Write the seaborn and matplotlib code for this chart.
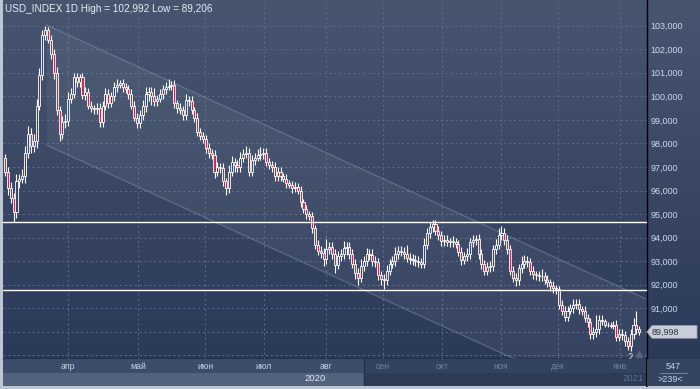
import numpy as np
import pandas as pd
import seaborn as sns
import matplotlib
matplotlib.use("Agg")
import matplotlib.pyplot as plt
from matplotlib.colors import LinearSegmentedColormap
from matplotlib.patches import Polygon, Rectangle
from matplotlib.transforms import blended_transform_factory

# --- data (daily candles, USD_INDEX) ---
first_open = 97.4
closes = [
    96.8, 96.1, 95.7, 95.1, 96.4, 96.5, 96.6, 97.6, 98.4, 97.9,
    98.1, 99.6, 100.9, 102.6, 102.8, 102.4, 101.8, 101.0, 99.4, 98.4,
    98.9, 98.95, 99.9, 100.1, 100.8, 100.6, 100.8, 100.05, 100.2, 99.6,
    99.5, 99.45, 99.5, 98.9, 99.6, 100.1, 99.7, 100.0, 100.4, 100.5,
    100.55, 100.4, 100.3, 100.1, 99.6, 99.1, 98.85, 99.2, 99.6, 100.1,
    100.2, 100.0, 99.8, 99.9, 100.1, 100.3, 100.4, 100.45, 100.5, 99.7,
    99.5, 99.4, 99.2, 99.85, 99.8, 99.4, 99.1, 98.5, 98.3, 98.2,
    97.8, 97.6, 97.5, 96.8, 97.0, 96.95, 96.4, 96.1, 96.8, 97.2,
    97.1, 97.0, 97.4, 97.55, 97.6, 96.8, 97.3, 97.4, 97.5, 97.55,
    97.6, 97.2, 97.1, 97.0, 96.6, 96.8, 96.6, 96.5, 96.3, 96.25,
    96.1, 96.15, 96.0, 95.5, 95.2, 95.0, 94.9, 94.4, 93.7, 93.45,
    93.35, 93.1, 93.5, 93.6, 93.3, 92.85, 93.2, 93.3, 93.55, 93.6,
    93.3, 92.9, 92.5, 92.3, 92.8, 93.0, 93.3, 93.25, 93.0, 92.95,
    92.4, 92.25, 92.2, 92.6, 92.9, 93.0, 93.3, 93.45, 93.4, 93.3,
    93.15, 93.1, 93.05, 93.0, 92.95, 92.9, 93.7, 94.2, 94.45, 94.6,
    94.3, 94.1, 93.85, 93.9, 93.8, 93.85, 93.8, 93.75, 93.4, 93.05,
    93.2, 93.3, 93.8, 93.9, 93.95, 93.3, 92.9, 92.6, 92.75, 92.8,
    93.5, 93.7, 94.1, 94.2, 93.9, 93.5, 92.6, 92.3, 92.2, 92.7,
    92.9, 93.0, 92.95, 92.6, 92.45, 92.4, 92.35, 92.35, 92.2, 92.1,
    91.95, 91.85, 91.8, 91.15, 90.9, 90.65, 90.9, 91.0, 91.15, 91.2,
    90.95, 90.9, 90.6, 90.4, 89.9, 90.0, 90.1, 90.5, 90.45, 90.3,
    90.3, 90.25, 90.3, 89.8, 89.9, 89.85, 89.6, 89.4, 89.9, 90.3,
    90.1, 89.998,
]
# wick length above / below the body
hi_ext = [
    .15, .2, .25, .2, .3, .2, .3, .3, .35, .25,
    .3, .3, .3, .2, .19, .15, .2, .2, .25, .2,
    .25, .3, .3, .25, .2, .2, .15, .2, .2, .15,
    .2, .15, .2, .2, .2, .25, .2, .2, .2, .25,
    .15, .2, .15, .2, .2, .2, .2, .2, .25, .3,
    .2, .2, .35, .15, .2, .2, .2, .3, .15, .2,
    .15, .2, .2, .25, .15, .2, .15, .2, .15, .2,
    .15, .2, .15, .2, .2, .15, .2, .15, .3, .25,
    .2, .2, .25, .2, .3, .2, .2, .2, .25, .3,
    .2, .2, .2, .15, .2, .2, .2, .15, .2, .15,
    .15, .2, .15, .2, .15, .2, .15, .2, .15, .2,
    .2, .2, .45, .2, .2, .2, .25, .2, .3, .2,
    .2, .2, .2, .2, .3, .2, .25, .2, .25, .2,
    .2, .2, .2, .25, .2, .2, .3, .2, .2, .2,
    .4, .2, .2, .2, .2, .2, .3, .2, .2, .15,
    .15, .2, .2, .2, .2, .15, .2, .2, .15, .2,
    .2, .25, .2, .2, .15, .2, .2, .15, .2, .2,
    .2, .25, .3, .3, .2, .2, .2, .2, .2, .2,
    .3, .25, .2, .2, .2, .15, .2, .3, .2, .2,
    .15, .2, .15, .15, .2, .2, .2, .2, .25, .2,
    .2, .15, .2, .15, .2, .2, .6, .2, .2, .1,
    .1, .1, .15, .2, .2, .2, .2, .2, .2, .3,
    .6, .15,
]
lo_ext = [
    .2, .3, .25, .45, .25, .3, .2, .3, .2, .3,
    .25, .3, .2, .2, .2, .15, .2, .25, .2, .3,
    .2, .25, .2, .2, .15, .2, .2, .15, .2, .15,
    .15, .2, .2, .2, .2, .2, .2, .15, .2, .2,
    .15, .2, .15, .2, .15, .15, .2, .2, .2, .25,
    .3, .35, .2, .2, .15, .2, .2, .15, .2, .2,
    .2, .15, .2, .2, .2, .15, .2, .2, .15, .2,
    .2, .2, .15, .25, .2, .2, .2, .3, .2, .2,
    .3, .2, .2, .2, .15, .2, .2, .2, .15, .2,
    .2, .15, .2, .2, .2, .2, .2, .15, .2, .15,
    .2, .15, .15, .2, .15, .2, .15, .2, .2, .2,
    .2, .3, .2, .2, .2, .35, .2, .2, .2, .3,
    .2, .2, .25, .3, .2, .2, .2, .2, .2, .2,
    .2, .25, .4, .2, .2, .2, .2, .2, .2, .2,
    .2, .2, .2, .2, .2, .2, .2, .2, .2, .2,
    .2, .2, .2, .2, .15, .2, .2, .2, .2, .2,
    .15, .2, .2, .2, .2, .2, .25, .2, .2, .2,
    .2, .2, .2, .2, .2, .2, .2, .2, .25, .2,
    .2, .2, .2, .2, .2, .2, .2, .2, .15, .2,
    .2, .2, .2, .2, .2, .2, .2, .15, .2, .2,
    .2, .2, .2, .2, .2, .2, .2, .2, .15, .1,
    .1, .1, .15, .2, .2, .2, .2, .19, .2, .2,
    .2, .15,
]

months = ["апр", "май", "июн", "июл", "авг", "сен", "окт", "ноя", "дек", "янв"]
month_start = [21.95, 46.3, 69.7, 90.2, 111.8, 131.7, 152.3, 172.8, 192.7, 214.3]
years = ["2020", "2021"]
level_lines = [94.65, 91.78]
# trend channel: starts at bar 14.5, parallel lines
chan_start = 14.5
chan_top = 103.03
chan_bottom = 97.93
chan_slope = -0.0557
last_price = 89.998
range_high = 102.992
range_low = 89.206
bars_total = 547
bars_visible = 239

df = pd.DataFrame({"close": closes, "hi": hi_ext, "lo": lo_ext})
df["open"] = df["close"].shift(1).fillna(first_open)
df["high"] = df[["open", "close"]].max(axis=1) + df["hi"]
df["low"] = df[["open", "close"]].min(axis=1) - df["lo"]
df["i"] = np.arange(len(df))

sns.set_theme(style="dark")
plt.rcParams["font.family"] = ["Liberation Sans", "DejaVu Sans"]

W, H = 700, 389
fig = plt.figure(figsize=(7, 3.89), dpi=100, facecolor="#bcc6d4")

def box(x0, y0, x1, y1):
    # pixel box (top-left origin) -> figure fraction rect
    return [x0 / W, 1 - y1 / H, (x1 - x0) / W, (y1 - y0) / H]

XMIN, XMAX = -0.70, 223.7
YMIN, YMAX = 88.847, 104.09
bg = LinearSegmentedColormap.from_list("bg", ["#47556f", "#2c3a5a"])
grad = np.linspace(0, 1, 256).reshape(-1, 1)

# right price panel
rp = fig.add_axes(box(647, 0, 700, 359))
rp.imshow(grad, cmap=bg, aspect="auto", extent=[0, 1, 0, 1])
rp.set_axis_off()

ax = fig.add_axes(box(3, 0, 647, 359))
ax.imshow(grad, cmap=bg, aspect="auto", extent=[0, 1, 0, 1],
          transform=ax.transAxes, zorder=0)

# grid
ax.set_xticks(month_start)
ax.set_yticks(range(89, 104))
ax.grid(True, color="#5d6d8b", lw=0.7, linestyle=(0, (2, 3)))
ax.tick_params(axis="x", length=0, labelbottom=False)
ax.yaxis.tick_right()
ax.set_yticklabels(["" if v < 91 else f"{v:.3f}".replace(".", ",") for v in range(89, 104)])
ax.tick_params(axis="y", length=0, pad=2.5, labelsize=6.5, labelcolor="#c9d7ee")

# channel
xe = XMAX
ch = pd.DataFrame({
    "x": [chan_start, xe, chan_start, xe],
    "y": [chan_top, chan_top + chan_slope * (xe - chan_start),
          chan_bottom, chan_bottom + chan_slope * (xe - chan_start)],
    "line": ["top", "top", "bottom", "bottom"],
})
ax.fill_between([chan_start, xe], ch.y[2:].values, ch.y[:2].values,
                color="white", alpha=0.05, lw=0, zorder=1)
sns.lineplot(data=ch, x="x", y="y", units="line", estimator=None,
             color="#8a9ab4", alpha=0.4, lw=1, ax=ax, zorder=2)

# candles
ax.vlines(df.i, df.low, df.high, color="white", lw=0.8, zorder=4)
up = df.close >= df.open
ax.bar(df.i[up], (df.close - df.open)[up], bottom=df.open[up], width=0.72,
       color="#3b4a68", edgecolor="white", lw=0.6, zorder=5)
ax.bar(df.i[~up], (df.open - df.close)[~up], bottom=df.close[~up], width=0.72,
       color="#c0304f", edgecolor="white", lw=0.6, zorder=5)

for v in level_lines:
    ax.axhline(v, color="white", lw=1.0, zorder=6)

lo_i = int(df.low.idxmin())
ax.text(lo_i, df.low.min() - 0.08, "2", color="#d0dae8", fontsize=7,
        ha="center", va="top", zorder=7)
ax.plot(lo_i + 3, 89.05, marker="^", color="#56647f", ms=4, zorder=7)

ax.set_xlim(XMIN, XMAX)
ax.set_ylim(YMIN, YMAX)
ax.set_xlabel("")
ax.set_ylabel("")
for s in ["top", "left"]:
    ax.spines[s].set_visible(False)
for s in ["right", "bottom"]:
    ax.spines[s].set_color("black")
    ax.spines[s].set_linewidth(1)

# last price tag
tr = blended_transform_factory(fig.transFigure, ax.transData)
hh = 0.27
tag = Polygon([(647 / W, last_price), (652 / W, last_price + hh), (697 / W, last_price + hh),
               (697 / W, last_price - hh), (652 / W, last_price - hh)],
              closed=True, transform=tr, facecolor="#c9ced8", edgecolor="#9aa4b4",
              lw=0.5, zorder=10)
fig.add_artist(tag)
fig.text(652 / W, last_price, f"{last_price:.3f}".replace(".", ","), transform=tr,
         color="#2a3345", fontsize=6.5, va="center", ha="left", zorder=11)

# title
fig.text(5 / W, 1 - 9 / H,
         f"USD_INDEX 1D High = {range_high:.3f} Low = {range_low:.3f}".replace(".", ","),
         color="#e6edf5", fontsize=7.2, va="center", ha="left")

# bottom time axis
bx = fig.add_axes(box(3, 359, 647, 386))
bx.set_xlim(XMIN, XMAX)
bx.set_ylim(0, 1)
split = (364 - 5) / 2.87
bx.add_patch(Rectangle((XMIN, 0.5), split - XMIN, 0.5, color="#3d4c6a", lw=0))
bx.add_patch(Rectangle((split, 0.5), XMAX - split, 0.5, color="#33425f", lw=0))
bx.add_patch(Rectangle((XMIN, 0), split - XMIN, 0.5, color="#52617e", lw=0))
bx.add_patch(Rectangle((split, 0), XMAX - split, 0.5, color="#2d3b57", lw=0))
bx.axvline(split, color="#26324a", lw=1)
for m, x in zip(months, month_start):
    bx.text(x, 0.74, m, color="#c4d0e4" if x < split else "#6f7f9c",
            fontsize=6.3, ha="center", va="center")
bx.text(split - 17, 0.26, years[0], color="#e0e8f2", fontsize=6.8, ha="center", va="center")
bx.text(XMAX - 5, 0.26, years[1], color="#5f6f8c", fontsize=6.8, ha="center", va="center")
bx.set_xticks([])
bx.set_yticks([])
for s in bx.spines.values():
    s.set_visible(False)
bx.spines["right"].set_visible(True)
bx.spines["right"].set_color("black")

# corner counter box
cx = fig.add_axes(box(647, 359, 700, 386))
cx.set_facecolor("#34435f")
cx.set_xticks([])
cx.set_yticks([])
for s in cx.spines.values():
    s.set_visible(False)
cx.text(0.5, 0.73, str(bars_total), color="#c8d4e8", fontsize=6.5, ha="center", va="center")
cx.plot([0.25, 0.75], [0.5, 0.5], color="#8090a8", lw=0.6)
cx.text(0.45, 0.25, f">{bars_visible}<", color="#c8d4e8", fontsize=6.5, ha="center", va="center")
cx.set_xlim(0, 1)
cx.set_ylim(0, 1)

fig.savefig("out.png", dpi=100, facecolor=fig.get_facecolor())
